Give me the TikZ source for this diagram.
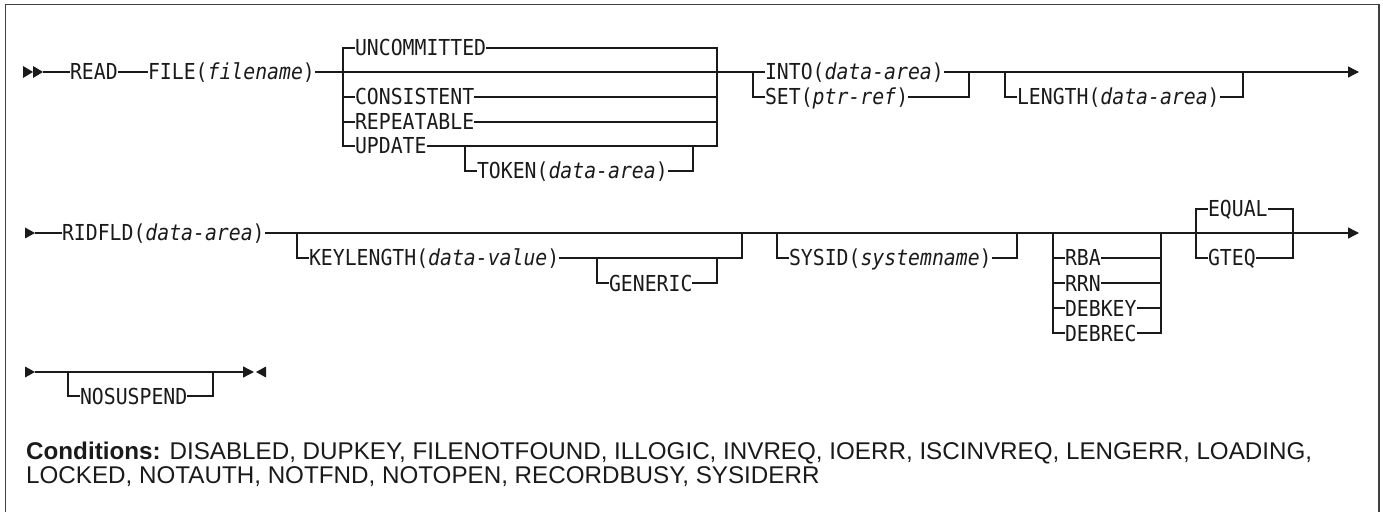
\documentclass[tikz,border=0pt]{standalone}
\usepackage{fontspec}
\usetikzlibrary{arrows.meta}
\setmainfont{Liberation Sans}
\newfontfamily\diagmono{DejaVu Sans Mono}[FakeStretch=0.9]
\definecolor{ink}{HTML}{1A1A1A}
\definecolor{framec}{HTML}{404040}
\newcommand\dfont{\diagmono\fontsize{22bp}{24bp}\selectfont}
\newcommand\vv[1]{\textit{#1}}
\tikzset{
  ln/.style={line width=1.4bp, draw=ink},
  lbl/.style={font=\dfont, text=ink, inner xsep=0pt, inner ysep=0pt, outer sep=0pt,
              text height=16bp, text depth=0pt, anchor=west},
  tip/.style={-{Triangle[length=11bp,width=11bp]}},
  cond/.style={font=\fontsize{24.2bp}{25bp}\selectfont, text=ink, inner sep=0pt, anchor=base west},
}
\begin{document}
\begin{tikzpicture}[x=1bp,y=-1bp]
\useasboundingbox (0,0) rectangle (1383,512);
\draw[framec, line width=1.8bp] (5.5,530) -- (5.5,4.5) -- (1379,4.5) -- (1379,530);

% ---------- row 1 ----------
\fill[ink] (23,66) -- (33,72) -- (23,78) -- cycle;
\fill[ink] (33,66) -- (43,72) -- (33,78) -- cycle;
\coordinate (r1s) at (43,72);
\node[lbl] (read) at (70,72) {READ};
\node[lbl] (file) at (148,72) {FILE(\vv{filename})};
\coordinate (u1) at (343,72);
\coordinate (u2) at (717,72);
\node[lbl] (uncom) at (355,48) {UNCOMMITTED};
\node[lbl] (cons) at (355,97) {CONSISTENT};
\node[lbl] (rep) at (355,122) {REPEATABLE};
\node[lbl] (upd) at (355,146) {UPDATE};
\coordinate (t1) at (465,146);
\coordinate (t2) at (693,146);
\node[lbl] (tok) at (477,171) {TOKEN(\vv{data-area})};
\coordinate (i1) at (753,72);
\coordinate (i2) at (969,72);
\node[lbl] (into) at (765,72) {INTO(\vv{data-area})};
\node[lbl] (set) at (765,97) {SET(\vv{ptr-ref})};
\coordinate (l1) at (1005,72);
\coordinate (l2) at (1243,72);
\node[lbl] (len) at (1017,97) {LENGTH(\vv{data-area})};
\coordinate (r1e) at (1359,72);

\draw[ln] (r1s) -- (read.west) (read.east) -- (file.west)
          (file.east) -- (u1) -- (u2) -- (i1) -- (into.west)
          (into.east) -- (i2) -- (l1) -- (l2);
\draw[ln,tip] (l2) -- (r1e);
\draw[ln] (uncom.west) -- (uncom.west -| u1) -- (upd.west -| u1) -- (upd.west);
\draw[ln] (cons.west -| u1) -- (cons.west) (rep.west -| u1) -- (rep.west);
\draw[ln] (uncom.east) -- (uncom.east -| u2) -- (upd.east -| u2) -- (upd.east);
\draw[ln] (cons.east) -- (cons.east -| u2) (rep.east) -- (rep.east -| u2);
\draw[ln] (t1) |- (tok.west) (tok.east) -| (t2);
\draw[ln] (i1) |- (set.west) (set.east) -| (i2);
\draw[ln] (l1) |- (len.west) (len.east) -| (l2);

% ---------- row 2 ----------
\fill[ink] (25,227.5) -- (35,233) -- (25,238.5) -- cycle;
\coordinate (r2s) at (35,233);
\node[lbl] (rid) at (62,233) {RIDFLD(\vv{data-area})};
\coordinate (k1) at (297,233);
\coordinate (k2) at (742,233);
\node[lbl] (key) at (309,258) {KEYLENGTH(\vv{data-value})};
\coordinate (g1) at (597,258);
\coordinate (g2) at (717,258);
\node[lbl] (gen) at (609,283) {GENERIC};
\coordinate (s1) at (777,233);
\coordinate (s2) at (1017,233);
\node[lbl] (sys) at (789,258) {SYSID(\vv{systemname})};
\coordinate (b1) at (1053,233);
\coordinate (b2) at (1161,233);
\node[lbl] (rba) at (1065,258) {RBA};
\node[lbl] (rrn) at (1065,283) {RRN};
\node[lbl] (dbk) at (1065,308) {DEBKEY};
\node[lbl] (dbr) at (1065,333) {DEBREC};
\coordinate (e1) at (1196,233);
\coordinate (e2) at (1293,233);
\node[lbl] (equal) at (1208,209) {EQUAL};
\node[lbl] (gteq) at (1208,258) {GTEQ};
\coordinate (r2e) at (1359,233);

\draw[ln] (r2s) -- (rid.west);
\draw[ln,tip] (rid.east) -- (r2e);
\draw[ln] (k1) |- (key.west) (key.east) -- (key.east -| k2) -- (k2);
\draw[ln] (g1) |- (gen.west) (gen.east) -| (g2);
\draw[ln] (s1) |- (sys.west) (sys.east) -| (s2);
\draw[ln] (b1) |- (dbr.west) (dbr.east) -| (b2);
\draw[ln] (rba.west -| b1) -- (rba.west) (rrn.west -| b1) -- (rrn.west) (dbk.west -| b1) -- (dbk.west);
\draw[ln] (rba.east) -- (rba.east -| b2) (rrn.east) -- (rrn.east -| b2) (dbk.east) -- (dbk.east -| b2);
\draw[ln] (equal.west) -- (equal.west -| e1) -- (gteq.west -| e1) -- (gteq.west);
\draw[ln] (equal.east) -- (equal.east -| e2) -- (gteq.east -| e2) -- (gteq.east);

% ---------- row 3 ----------
\fill[ink] (25,366.5) -- (35,372) -- (25,377.5) -- cycle;
\coordinate (r3s) at (35,372);
\coordinate (n1) at (68,372);
\coordinate (n2) at (213,372);
\node[lbl] (nosus) at (80,396) {NOSUSPEND};
\coordinate (r3e) at (254,372);
\draw[ln,tip] (r3s) -- (r3e);
\fill[ink] (256,372) -- (266,366.5) -- (266,377.5) -- cycle;
\draw[ln] (n1) |- (nosus.west) (nosus.east) -| (n2);

% ---------- conditions ----------
\node[cond] (c1) at (26,459) {\textbf{Conditions:} DISABLED, DUPKEY, FILENOTFOUND, ILLOGIC, INVREQ, IOERR, ISCINVREQ, LENGERR, LOADING,};
\node[cond] (c2) at (26,483) {LOCKED, NOTAUTH, NOTFND, NOTOPEN, RECORDBUSY, SYSIDERR};
\end{tikzpicture}
\end{document}
